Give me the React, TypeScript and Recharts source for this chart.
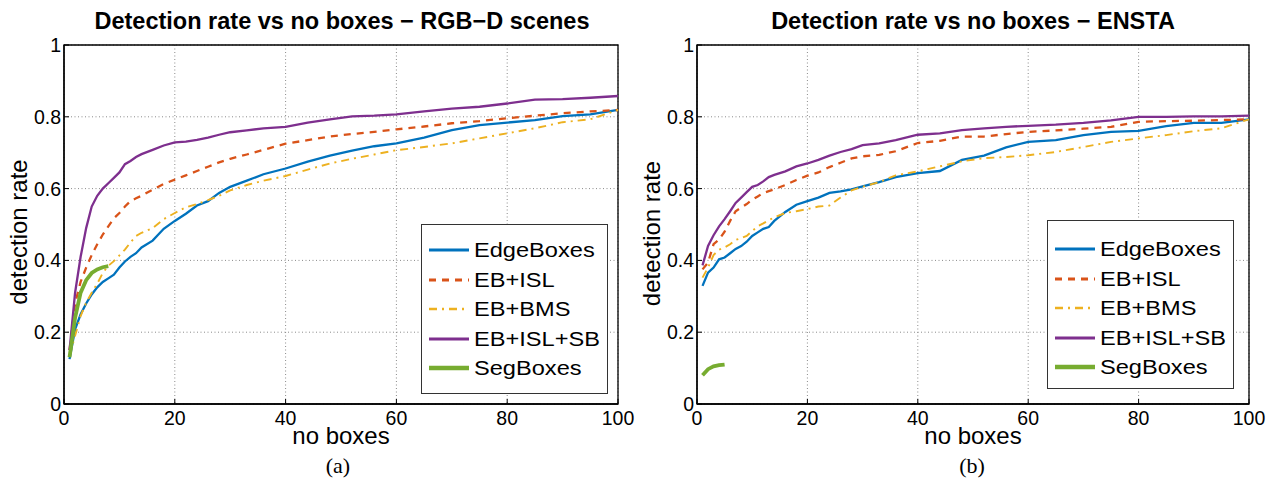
import React from 'react';
import { LineChart, Line, XAxis, YAxis, CartesianGrid, Legend, ReferenceArea } from 'recharts';

// number of boxes at which the curves were read
const boxCounts = [1, 2, 3, 4, 5, 6, 7, 8, 9, 10, 11, 12, 13, 14, 16, 18, 20, 22, 24, 26, 28, 30, 33, 36, 40, 44, 48, 52, 56, 60, 65, 70, 75, 80, 85, 90, 95, 100];

// (a) RGB-D scenes
const rgbdEdgeBoxes = [0.125, 0.208, 0.25, 0.28, 0.305, 0.325, 0.34, 0.35, 0.36, 0.38, 0.397, 0.41, 0.42, 0.436, 0.455, 0.488, 0.51, 0.53, 0.553, 0.565, 0.588, 0.605, 0.622, 0.64, 0.656, 0.675, 0.692, 0.706, 0.718, 0.726, 0.742, 0.763, 0.777, 0.784, 0.791, 0.802, 0.807, 0.819];
const rgbdIsl = [0.15, 0.28, 0.34, 0.38, 0.415, 0.445, 0.472, 0.495, 0.517, 0.532, 0.55, 0.565, 0.573, 0.58, 0.597, 0.613, 0.625, 0.637, 0.649, 0.661, 0.673, 0.683, 0.695, 0.708, 0.725, 0.735, 0.745, 0.752, 0.758, 0.765, 0.773, 0.782, 0.788, 0.796, 0.803, 0.81, 0.815, 0.819];
const rgbdBms = [0.134, 0.19, 0.245, 0.282, 0.31, 0.335, 0.365, 0.385, 0.398, 0.414, 0.43, 0.45, 0.468, 0.477, 0.49, 0.515, 0.532, 0.548, 0.557, 0.568, 0.58, 0.595, 0.61, 0.622, 0.635, 0.653, 0.67, 0.683, 0.695, 0.707, 0.716, 0.726, 0.74, 0.754, 0.768, 0.785, 0.793, 0.819];
const rgbdIslSb = [0.15, 0.31, 0.41, 0.49, 0.55, 0.58, 0.6, 0.615, 0.63, 0.645, 0.668, 0.677, 0.688, 0.696, 0.708, 0.72, 0.729, 0.731, 0.736, 0.742, 0.75, 0.757, 0.762, 0.768, 0.772, 0.784, 0.793, 0.801, 0.803, 0.807, 0.815, 0.823, 0.828, 0.837, 0.848, 0.849, 0.853, 0.858];
const rgbdSegCounts = [1, 2, 3, 4, 5, 6, 7, 8];
const rgbdSeg = [0.13, 0.24, 0.31, 0.345, 0.365, 0.375, 0.381, 0.384];

// (b) ENSTA
const enstaEdgeBoxes = [0.329, 0.366, 0.38, 0.403, 0.408, 0.42, 0.432, 0.44, 0.452, 0.468, 0.478, 0.488, 0.493, 0.51, 0.535, 0.555, 0.565, 0.575, 0.588, 0.592, 0.598, 0.606, 0.618, 0.632, 0.643, 0.649, 0.68, 0.692, 0.715, 0.73, 0.735, 0.749, 0.758, 0.761, 0.774, 0.783, 0.783, 0.793];
const enstaIsl = [0.375, 0.394, 0.445, 0.458, 0.48, 0.51, 0.537, 0.547, 0.557, 0.569, 0.578, 0.588, 0.593, 0.598, 0.61, 0.624, 0.636, 0.645, 0.66, 0.672, 0.684, 0.69, 0.694, 0.704, 0.727, 0.733, 0.745, 0.745, 0.752, 0.758, 0.762, 0.767, 0.772, 0.786, 0.788, 0.789, 0.791, 0.793];
const enstaBms = [0.352, 0.38, 0.415, 0.43, 0.436, 0.445, 0.457, 0.462, 0.468, 0.482, 0.495, 0.503, 0.512, 0.52, 0.532, 0.537, 0.543, 0.55, 0.553, 0.575, 0.595, 0.605, 0.618, 0.637, 0.648, 0.662, 0.676, 0.685, 0.688, 0.693, 0.702, 0.716, 0.73, 0.74, 0.749, 0.76, 0.768, 0.793];
const enstaIslSb = [0.386, 0.44, 0.47, 0.495, 0.515, 0.537, 0.56, 0.575, 0.59, 0.605, 0.61, 0.62, 0.632, 0.638, 0.648, 0.662, 0.67, 0.68, 0.692, 0.702, 0.71, 0.721, 0.726, 0.735, 0.75, 0.754, 0.763, 0.768, 0.772, 0.775, 0.778, 0.783, 0.79, 0.8, 0.8, 0.801, 0.801, 0.803];
const enstaSegCounts = [1, 2, 3, 4, 5];
const enstaSeg = [0.08, 0.097, 0.105, 0.108, 0.11];

const xTicks = [0, 20, 40, 60, 80, 100];
const yTicks = [0, 0.2, 0.4, 0.6, 0.8, 1];

const FONT = '"Liberation Sans", Arial, Helvetica, sans-serif';

const seriesStyle = [
  { key: 'edge', name: 'EdgeBoxes', color: '#0072BD', width: 2.3, dash: undefined, legendWidth: 3 },
  { key: 'isl', name: 'EB+ISL', color: '#D95319', width: 2.3, dash: '7 6', legendWidth: 3 },
  { key: 'bms', name: 'EB+BMS', color: '#EDB120', width: 1.9, dash: '8 5 2 5', legendWidth: 2.4 },
  { key: 'islsb', name: 'EB+ISL+SB', color: '#7E2F8E', width: 2.3, dash: undefined, legendWidth: 3 },
  { key: 'seg', name: 'SegBoxes', color: '#77AC30', width: 3.8, dash: undefined, legendWidth: 4.5 },
];

const buildTable = (edge: number[], isl: number[], bms: number[], islsb: number[], segX: number[], seg: number[]) =>
  boxCounts.map((x, i) => {
    const s = segX.indexOf(x);
    return { x, edge: edge[i], isl: isl[i], bms: bms[i], islsb: islsb[i], seg: s >= 0 ? seg[s] : undefined };
  });

const rgbdData = buildTable(rgbdEdgeBoxes, rgbdIsl, rgbdBms, rgbdIslSb, rgbdSegCounts, rgbdSeg);
const enstaData = buildTable(enstaEdgeBoxes, enstaIsl, enstaBms, enstaIslSb, enstaSegCounts, enstaSeg);

const fmtY = (v: number) => (v === 0 ? '0' : v === 1 ? '1' : String(v));

const LegendBox = ({ width, height, firstRow }: { width: number; height: number; firstRow: number }) => (
  <div style={{ position: 'relative', width, height, boxSizing: 'border-box', border: '1.3px solid #333', background: '#fff' }}>
    {seriesStyle.map((s, i) => (
      <div key={s.key} style={{ position: 'absolute', left: 0, top: firstRow + i * 29.6 - 14, height: 28, width: '100%' }}>
        <svg width={44} height={28} style={{ position: 'absolute', left: 6, top: 0 }}>
          <line x1={1} x2={41} y1={14} y2={14} stroke={s.color} strokeWidth={s.legendWidth} strokeDasharray={s.dash} />
        </svg>
        <span style={{ position: 'absolute', left: 52, top: 1, fontFamily: FONT, fontSize: 20, lineHeight: '26px', color: '#000', whiteSpace: 'nowrap', transform: 'scaleX(1.18)', transformOrigin: 'left center' }}>
          {s.name}
        </span>
      </div>
    ))}
  </div>
);

interface PanelProps {
  data: any[];
  width: number;
  yAxisWidth: number;
  rightMargin: number;
  legend: { left: number; top: number; width: number; height: number; firstRow: number };
}

const Panel = ({ data, width, yAxisWidth, rightMargin, legend }: PanelProps) => {
  const plotBottom = 404;
  const yLabelX = yAxisWidth - 31;
  return (
    <LineChart width={width} height={483} data={data} margin={{ top: 45, right: rightMargin, left: 0, bottom: 0 }}>
      <CartesianGrid stroke="#8a8a8a" strokeDasharray="1 2.5" strokeWidth={1} horizontalValues={yTicks} verticalValues={xTicks} />
      <XAxis
        dataKey="x"
        type="number"
        domain={[0, 100]}
        ticks={xTicks}
        height={79}
        tickLine={{ stroke: '#000', strokeWidth: 1 }}
        tickSize={-5}
        tickMargin={12}
        axisLine={{ stroke: '#000', strokeWidth: 1.3 }}
        tick={{ fill: '#000', fontSize: 19.5, fontFamily: FONT }}
        label={
          <text x={(yAxisWidth + width - rightMargin) / 2} y={plotBottom + 39} textAnchor="middle" fontSize={24} fontFamily={FONT} fill="#000">
            no boxes
          </text>
        }
      />
      <YAxis
        type="number"
        domain={[0, 1]}
        ticks={yTicks}
        width={yAxisWidth}
        tickLine={{ stroke: '#000', strokeWidth: 1 }}
        tickSize={-5}
        tickMargin={8}
        tickFormatter={fmtY}
        axisLine={{ stroke: '#000', strokeWidth: 1.3 }}
        tick={{ fill: '#000', fontSize: 19.5, fontFamily: FONT }}
        label={
          <text x={yLabelX} y={231} transform={`rotate(-90 ${yLabelX} 231)`} textAnchor="middle" fontSize={24} fontFamily={FONT} fill="#000">
            detection rate
          </text>
        }
      />
      <ReferenceArea x1={0} x2={100} y1={0} y2={1} fill="none" stroke="#000" strokeWidth={1.3} />
      {seriesStyle.map((s) => (
        <Line
          key={s.key}
          type="linear"
          dataKey={s.key}
          name={s.name}
          stroke={s.color}
          strokeWidth={s.width}
          strokeDasharray={s.dash}
          dot={false}
          activeDot={false}
          isAnimationActive={false}
        />
      ))}
      <Legend
        layout="vertical"
        align="center"
        verticalAlign="middle"
        wrapperStyle={{ left: legend.left, top: legend.top, width: legend.width, height: legend.height }}
        content={() => <LegendBox width={legend.width} height={legend.height} firstRow={legend.firstRow} />}
      />
    </LineChart>
  );
};

export default function App() {
  return (
    <div style={{ position: 'absolute', left: 0, top: 0, width: 1274, height: 483, background: '#fff', overflow: 'hidden' }}>
      <div style={{ position: 'absolute', left: 0, top: 0 }}>
        <Panel data={rgbdData} width={640} yAxisWidth={64} rightMargin={22} legend={{ left: 421, top: 224, width: 187, height: 170, firstRow: 25 }} />
      </div>
      <div style={{ position: 'absolute', left: 630, top: 0 }}>
        <Panel data={enstaData} width={644} yAxisWidth={67} rightMargin={25} legend={{ left: 417, top: 220, width: 187, height: 169, firstRow: 28 }} />
      </div>
      <svg width={1274} height={483} style={{ position: 'absolute', left: 0, top: 0, pointerEvents: 'none' }}>
        <text x={342} y={29} textAnchor="middle" fontFamily={FONT} fontWeight="bold" fontSize={23.5} fill="#000">
          Detection rate vs no boxes − RGB−D scenes
        </text>
        <text x={973} y={29} textAnchor="middle" fontFamily={FONT} fontWeight="bold" fontSize={23.5} fill="#000">
          Detection rate vs no boxes − ENSTA
        </text>
        <text x={338} y={473} textAnchor="middle" fontFamily='"Liberation Serif", "Times New Roman", serif' fontSize={22} fill="#000">
          (a)
        </text>
        <text x={972} y={473} textAnchor="middle" fontFamily='"Liberation Serif", "Times New Roman", serif' fontSize={22} fill="#000">
          (b)
        </text>
      </svg>
    </div>
  );
}
